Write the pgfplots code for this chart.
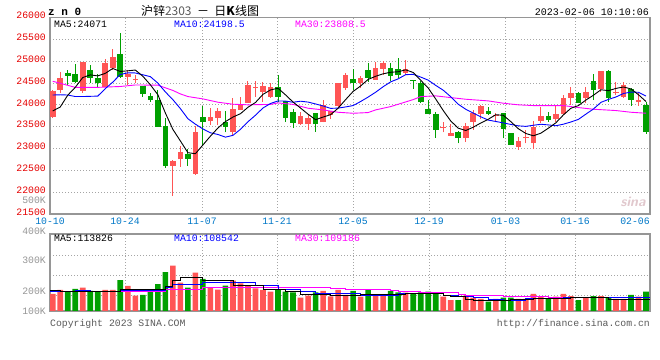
\documentclass[border=0pt]{standalone}
\usepackage{pgfplots}
\pgfplotsset{compat=1.18}
\usepackage{pgfplotstable}
\usepackage{fontspec}
\setmainfont{Liberation Sans}
\setmonofont{Liberation Mono}
\newfontfamily\cjk{Noto Sans CJK SC}
\definecolor{candred}{RGB}{255,85,85}
\definecolor{candgreen}{RGB}{0,160,0}
\definecolor{gridgray}{RGB}{165,165,165}
\definecolor{framegray}{RGB}{150,150,150}
\definecolor{datecol}{RGB}{0,120,200}
\definecolor{ylabred}{RGB}{230,0,0}
\definecolor{volgray}{RGB}{150,150,150}
\definecolor{txtgray}{RGB}{90,90,90}
\definecolor{mag}{RGB}{255,0,255}

\pgfplotstableread{
i O H L C
0 23710 24330 23700 24320
1 24342 24747 24266 24625
4 24319 24990 24281 24984
7 24418 25053 24410 24953
8 24839 25290 24800 25091
10 24640 24800 24457 24701
11 24564 24686 24495 24602
16 22608 22740 21913 22722
17 22753 23059 22577 22921
19 22417 23517 22402 23387
21 23632 23922 23540 23723
22 23708 23922 23540 23861
24 23387 24166 23311 23907
25 23891 24189 23891 23991
26 24044 24548 24044 24457
27 24380 24548 24182 24411
28 24296 24533 24075 24434
29 24182 24510 24166 24411
33 23555 23830 23540 23746
34 23555 23769 23425 23708
36 23601 24113 23600 23998
37 23769 23861 23670 23861
38 23983 24500 23960 24495
39 24396 24739 24342 24686
41 24495 24663 24380 24625
43 24572 24992 24572 24854
44 24823 25015 24686 24969
47 24724 25030 24686 24823
52 23464 23617 23372 23502
53 23296 23555 23296 23364
55 23235 23578 23158 23517
56 23616 23884 23425 23807
57 23792 23990 23678 23983
59 23739 23807 23601 23769
62 23043 23273 22967 23173
63 23230 23425 23120 23252
64 23120 23632 22982 23502
65 23632 23960 23593 23746
67 23678 23998 23617 23792
68 23792 24228 23790 24151
69 24166 24418 23998 24266
71 24166 24418 24037 24289
73 24365 24780 24304 24778
75 24266 24518 24228 24304
76 24189 24533 24151 24457
78 24060 24266 23983 24113
}\redtab

\pgfplotstableread{
i O H L C
2 24739 24800 24457 24663
3 24701 24930 24495 24533
5 24800 24915 24495 24625
6 24610 24709 24418 24510
9 25160 25656 24610 24640
12 24434 24440 24189 24243
13 24205 24266 24060 24113
14 24113 24335 23495 23502
15 23517 23693 22562 22608
18 22868 22982 22608 22768
20 23723 23983 23066 23609
23 23609 23861 23372 23502
30 24418 24686 24060 24189
31 24090 24095 23617 23693
32 23830 23907 23479 23593
35 23807 23810 23387 23555
40 24594 24823 24342 24495
42 24800 24969 24533 24610
45 24854 24953 24548 24671
46 24823 25083 24625 24686
48 24571 24571 24365 24548
49 24495 24548 24037 24075
50 23907 24113 23780 23785
51 23792 23830 23250 23425
54 23387 23390 23120 23250
58 23861 23945 23769 23792
60 23807 23810 23234 23448
61 23349 23350 23080 23082
66 23746 23830 23617 23655
70 24266 24289 24037 24052
72 24548 24709 24113 24342
74 24778 24800 24075 24166
77 24365 24396 23983 24113
79 23998 24060 23341 23387
}\greentab

\pgfplotstableread{
i V
0 163.75
1 178.75
4 187.5
7 178.75
8 178.75
10 193.75
11 157.5
16 270
17 206
19 244
21 189
22 180
24 214
25 204
26 195
27 185
28 179
29 172.5
33 150
34 157.5
36 175
37 155
38 178.75
39 160
41 153.75
43 160
44 160
47 168.75
52 153.75
53 141
55 157.5
56 150
57 145
59 145
62 145
63 145
64 164
65 153.75
67 153.75
68 164
69 156
71 150
73 156
75 145
76 145
78 153.75
}\redvol

\pgfplotstableread{
i V
2 172.5
3 182.5
5 175
6 172.5
9 216
12 160
13 172.5
14 201
15 246
18 187.5
20 220
23 195
30 179
31 172.5
32 170
35 170
40 175
42 178.75
45 175
46 170
48 166
49 170
50 172.5
51 168.75
54 141
58 135
60 150
61 150
66 145
70 141
72 156
74 150
77 160
79 172.5
}\greenvol

\pgfplotsset{
  kframe/.style={
    scale only axis, anchor=south west,
    xmin=-0.36, xmax=79.53,
    scaled x ticks=false, scaled y ticks=false,
    axis line style={draw=framegray, line width=1.3bp},
    grid=major,
    major grid style={draw=gridgray, line width=0.8bp, dash pattern=on 1bp off 2bp},
    major tick length=0pt,
    xtick={9.63,19.88,29.87,39.99,50.11,60.29,69.55},
    ticklabel style={font=\ttfamily\fontsize{9.8bp}{10bp}\selectfont},
  },
  wick/.style={draw=none, mark=none, forget plot,
    error bars/.cd, y dir=plus, y explicit, error mark=none,
    error bar style={draw=#1, line width=1bp}},
  body/.style={draw=none, mark=none, forget plot,
    error bars/.cd, y dir=plus, y explicit, error mark=none,
    error bar style={draw=#1, line width=5.6bp}},
}

\begin{document}
\begin{tikzpicture}
\path[use as bounding box, fill=white] (0,0) rectangle (660bp,360bp);

% ---------- price panel ----------
\begin{axis}[kframe,
  at={(50bp,146bp)}, width=600bp, height=196.5bp,
  ymin=21500, ymax=26000,
  xticklabels={10-24,11-07,11-21,12-05,12-19,01-03,01-16},
  extra x ticks={-0.36,77.54},
  extra x tick labels={10-10,02-06},
  extra x tick style={grid=none},
  xticklabel style={text=datecol, inner sep=0pt, yshift=-3.5bp},
  ytick={21500,22000,22500,23000,23500,24000,24500,25000,25500,26000},
  yticklabels={21500,22000,22500,23000,23500,24000,24500,25000,25500,26000},
  yticklabel style={text=ylabred, inner sep=0pt, xshift=-4bp, yshift=2bp},
]
\addplot[wick=candred] table[x=i, y=L, y error plus expr=\thisrow{H}-\thisrow{L}] {\redtab};
\addplot[body=candred] table[x=i, y=O, y error plus expr=\thisrow{C}-\thisrow{O}] {\redtab};
\addplot[wick=candgreen] table[x=i, y=L, y error plus expr=\thisrow{H}-\thisrow{L}] {\greentab};
\addplot[body=candgreen] table[x=i, y=C, y error plus expr=\thisrow{O}-\thisrow{C}] {\greentab};

% MA30
\addplot[mag, line width=0.9bp, mark=none] coordinates {
(0,24540) (3,24400) (6,24400) (9,24420) (11,24455) (14,24450) (16,24330) (17,24250)
(18,24190) (20,24136) (22,24060) (24,24014) (26,24000) (29,24010) (30,24044) (32,24010)
(34,23922) (36,23884) (38,23830) (40,23807) (42,23823) (43,23884) (45,23960) (48,24120)
(49,24189) (51,24205) (53,24166) (55,24128) (58,24090) (60,24037) (62,24000) (64,23983)
(68,23983) (70,23937) (72,23899) (75,23869) (77,23830) (79,23808)};
% MA10
\addplot[blue, line width=0.9bp, mark=none] coordinates {
(0,24225) (1,24230) (2,24225) (3,24190) (4,24190) (5,24195) (6,24200) (7,24370) (8,24520)
(9,24694) (10,24733) (11,24730) (12,24688) (13,24646) (14,24498) (15,24296) (16,24118)
(17,23914) (18,23682) (19,23557) (20,23448) (21,23360) (22,23321) (23,23260) (24,23301)
(25,23439) (26,23613) (27,23762) (28,23928) (29,24031) (30,24089) (31,24086) (32,24059)
(33,24083) (34,24063) (35,24020) (36,23974) (37,23919) (38,23925) (39,23952) (40,23983)
(41,24076) (42,24178) (43,24289) (44,24415) (45,24526) (46,24595) (47,24691) (48,24698)
(49,24636) (50,24565) (51,24445) (52,24335) (53,24186) (54,24014) (55,23898) (56,23810)
(57,23726) (58,23650) (59,23619) (60,23586) (61,23551) (62,23519) (63,23507) (64,23532)
(65,23555) (66,23540) (67,23521) (68,23557) (69,23607) (70,23667) (71,23788) (72,23905)
(73,24057) (74,24124) (75,24180) (76,24260) (77,24292) (78,24288) (79,24200)};
% MA5
\addplot[black, line width=0.9bp, mark=none] coordinates {
(0,23860) (1,23950) (2,24220) (3,24400) (4,24625) (5,24686) (6,24663) (7,24721) (8,24833)
(9,24764) (10,24779) (11,24797) (12,24655) (13,24460) (14,24232) (15,23814) (16,23438)
(17,23173) (18,22904) (19,22881) (20,23081) (21,23282) (22,23470) (23,23616) (24,23720)
(25,23797) (26,23944) (27,24054) (28,24240) (29,24341) (30,24380) (31,24228) (32,24064)
(33,23926) (34,23786) (35,23659) (36,23720) (37,23774) (38,23923) (39,24119) (40,24307)
(41,24432) (42,24582) (43,24654) (44,24711) (45,24746) (46,24758) (47,24801) (48,24741)
(49,24562) (50,24385) (51,24133) (52,23869) (53,23630) (54,23465) (55,23412) (56,23488)
(57,23584) (58,23670) (59,23774) (60,23760) (61,23615) (62,23453) (63,23344) (64,23291)
(65,23351) (66,23465) (67,23589) (68,23769) (69,23922) (70,23983) (71,24110) (72,24220)
(73,24345) (74,24325) (75,24376) (76,24409) (77,24364) (78,24231) (79,24075)};
\end{axis}

% ---------- volume panel ----------
\begin{axis}[kframe,
  at={(50bp,49bp)}, width=600bp, height=77bp,
  ymin=100, ymax=388.75,
  xticklabels={}, ytick={160,235,310}, yticklabels={},
]
\addplot[ybar, bar width=5.6bp, bar shift=0pt, fill=candred, draw=none, forget plot] table[x=i, y=V] {\redvol};
\addplot[ybar, bar width=5.6bp, bar shift=0pt, fill=candgreen, draw=none, forget plot] table[x=i, y=V] {\greenvol};
\addplot[mag, line width=0.9bp, mark=none, const plot mark left] coordinates {
(-0.36,172.5) (10,175) (15,181) (20,187.5) (37,185) (39,181) (45,177.5) (46,174) (49,169)
(54,162.5) (55,159) (60,155) (66,150) (79.53,150)};
\addplot[blue, line width=0.9bp, mark=none, const plot mark left] coordinates {
(-0.36,172.5) (3,176) (5,172.5) (9,177.5) (15,187.5) (16,200) (20,207.5) (27,194) (30,182.5)
(33,175) (35,166) (37,164) (41,160) (46,166) (49,164) (52,157.5) (54,153.75) (56,150) (58,145)
(60,141) (62,140) (63,147.5) (68,150) (79.53,150)};
\addplot[black, line width=0.9bp, mark=none, const plot mark left] coordinates {
(-0.36,176) (1,172.5) (9,182.5) (15,191) (16,216) (17,225) (20,216) (24,195) (28,182.5)
(31,172.5) (33,162.5) (37,157.5) (41,162.5) (47,166) (52,160) (53,153.75) (55,145) (56,139)
(58,141) (61,142.5) (64,147.5) (69,150) (74,145) (79.53,145)};
\end{axis}

% ---------- texts ----------
\node[anchor=west, inner sep=0pt] at (48bp,348.3bp) {\ttfamily\bfseries\fontsize{11bp}{12bp}\selectfont z n 0};
\node[inner sep=0pt] at (200bp,349.3bp) {\cjk\fontsize{12bp}{13bp}\selectfont 沪锌{\color{txtgray}2303}\ \ －\ \ 日\textbf{K}线图};
\node[anchor=east, inner sep=0pt] at (649bp,347.7bp) {\ttfamily\fontsize{10bp}{11bp}\selectfont 2023-02-06 10:10:06};

\begin{scope}[every node/.style={anchor=west, inner sep=0pt, font=\ttfamily\fontsize{9.8bp}{10bp}\selectfont}]
\node[text=black] at (54bp,336bp) {MA5:24071};
\node[text=blue] at (174bp,336bp) {MA10:24198.5};
\node[text=mag] at (295bp,336bp) {MA30:23808.5};
\node[text=black] at (54bp,121.7bp) {MA5:113826};
\node[text=blue] at (174bp,121.7bp) {MA10:108542};
\node[text=mag] at (295bp,121.7bp) {MA30:109186};
\node[text=txtgray] at (50bp,36bp) {Copyright 2023 SINA.COM};
\end{scope}
\node[anchor=east, inner sep=0pt, text=txtgray, font=\ttfamily\fontsize{9.8bp}{10bp}\selectfont] at (650bp,36bp) {http://finance.sina.com.cn};

\begin{scope}[every node/.style={anchor=east, inner sep=0pt, text=volgray, font=\ttfamily\fontsize{9.8bp}{10bp}\selectfont}]
\node at (46bp,160bp) {500K};
\node at (46bp,129bp) {400K};
\node at (46bp,99.3bp) {300K};
\node at (46bp,69bp) {200K};
\node at (46bp,49bp) {100K};
\end{scope}

\node[inner sep=0pt, text={rgb,255:red,225;green,200;blue,205}, font=\sffamily\bfseries\itshape\fontsize{14bp}{14bp}\selectfont] at (633bp,158bp) {sina};
\end{tikzpicture}
\end{document}
